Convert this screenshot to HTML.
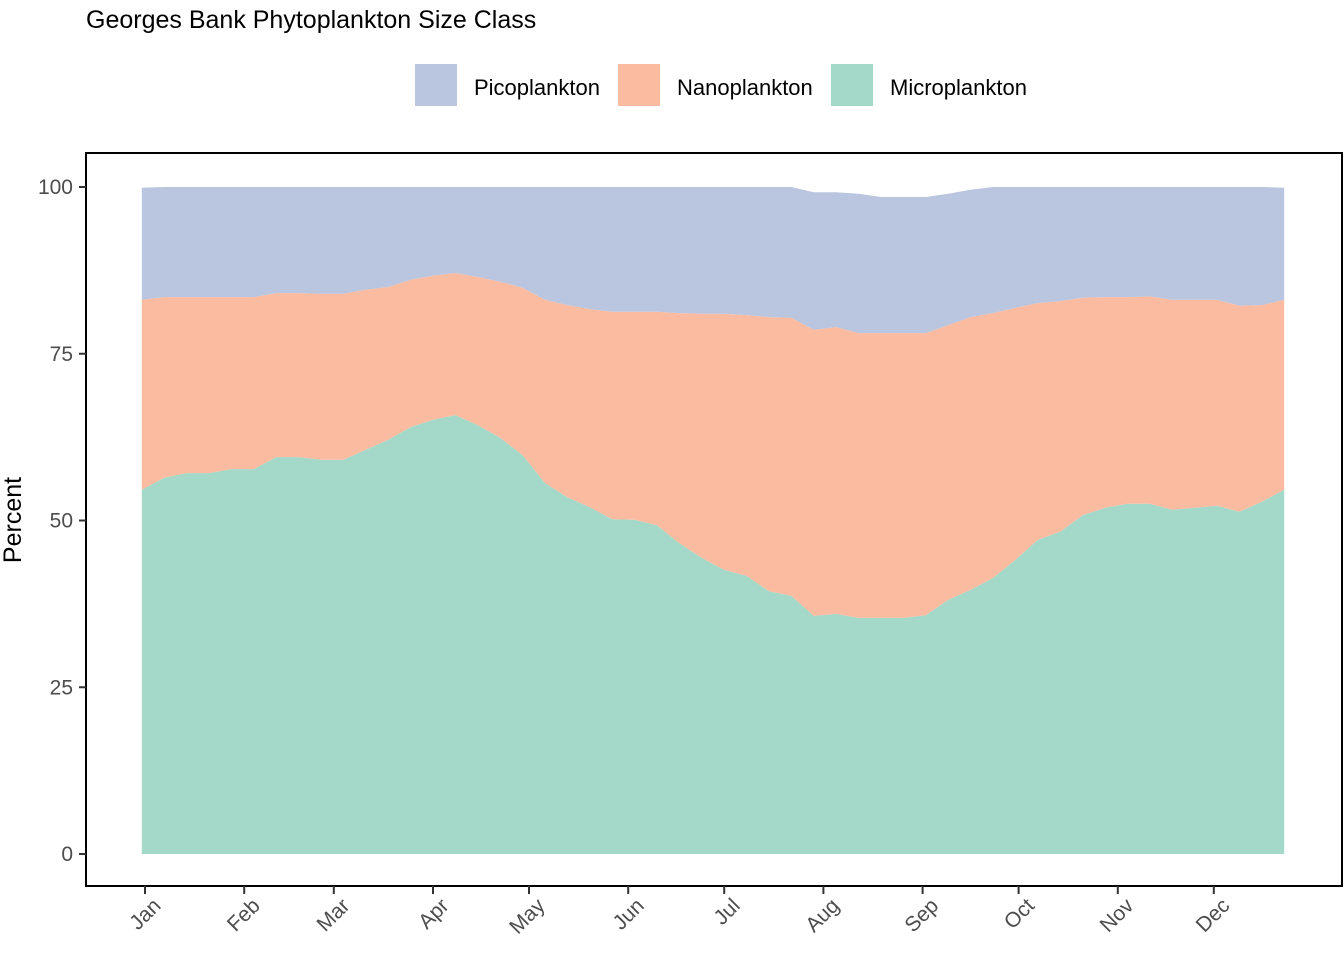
<!DOCTYPE html>
<html><head><meta charset="utf-8"><style>
body{margin:0;background:#fff;}
svg{display:block;font-family:"Liberation Sans",Arial,sans-serif;}
</style></head><body>
<svg id="chart" width="1344" height="960" viewBox="0 0 1344 960">
<text x="86" y="28" font-size="25" fill="#000">Georges Bank Phytoplankton Size Class</text>
<g>
<rect x="415" y="64" width="42" height="42" fill="#BAC5E0"/>
<text x="474" y="95" font-size="22">Picoplankton</text>
<rect x="618" y="64" width="42" height="42" fill="#FBBBA0"/>
<text x="677" y="95" font-size="22">Nanoplankton</text>
<rect x="831" y="64" width="42" height="42" fill="#A4D9C9"/>
<text x="890" y="95" font-size="22">Microplankton</text>
</g>
<text transform="translate(21,520) rotate(-90)" text-anchor="middle" font-size="25">Percent</text>
<g id="areas"></g>
<rect x="86" y="153" width="1256" height="733" fill="none" stroke="#000" stroke-width="2"/>
<g id="axes"></g>
</svg>
<script>
const days = [];
for (let i = 0; i < 52; i++) days.push(i * 7);
const micro = [54.6,56.4,57.1,57.1,57.7,57.7,59.5,59.5,59.1,59.1,60.6,62.1,64.0,65.1,65.8,64.3,62.4,59.8,55.6,53.5,52.0,50.2,50.1,49.3,46.6,44.4,42.6,41.7,39.4,38.7,35.7,36.0,35.4,35.4,35.4,35.8,38.1,39.6,41.4,44.1,47.1,48.3,50.8,51.9,52.5,52.5,51.6,51.9,52.2,51.3,52.8,54.6];
const nano = [28.5,27.1,26.4,26.4,25.8,25.8,24.6,24.6,24.9,24.9,24.0,22.9,22.1,21.6,21.3,22.2,23.4,25.1,27.5,28.8,29.7,31.1,31.2,32.0,34.5,36.6,38.4,39.1,41.1,41.7,42.9,43.0,42.7,42.7,42.7,42.3,41.2,40.9,39.7,37.8,35.5,34.6,32.6,31.6,31.0,31.1,31.5,31.2,30.9,30.9,29.5,28.5];
const pico = [16.8,16.5,16.5,16.5,16.5,16.5,15.9,15.9,16.0,16.0,15.4,15.0,13.9,13.3,12.9,13.5,14.2,15.1,16.9,17.7,18.3,18.7,18.7,18.7,18.9,19.0,19.0,19.2,19.5,19.6,20.6,20.2,20.9,20.4,20.4,20.4,19.7,19.1,18.9,18.1,17.4,17.1,16.6,16.5,16.5,16.4,16.9,16.9,16.9,17.8,17.7,16.8];
const yTicks = [0,25,50,75,100];
const months = ["Jan","Feb","Mar","Apr","May","Jun","Jul","Aug","Sep","Oct","Nov","Dec"];
const monthStartDay = [1,32,60,91,121,152,182,213,244,274,305,335];

const NS = "http://www.w3.org/2000/svg";
const xScale = d => 141.8 + d * 3.2;
const yScale = v => 854 - v * 6.67;

const areas = document.getElementById('areas');
const axes = document.getElementById('axes');
function areaPath(lo, hi) {
  let s = "";
  for (let i = 0; i < days.length; i++) s += (i ? "L" : "M") + xScale(days[i]).toFixed(1) + "," + yScale(hi[i]).toFixed(1);
  for (let i = days.length - 1; i >= 0; i--) s += "L" + xScale(days[i]).toFixed(1) + "," + yScale(lo[i]).toFixed(1);
  return s + "Z";
}
const zero = days.map(() => 0);
const c1 = micro.slice();
const c2 = micro.map((v, i) => v + nano[i]);
const c3 = c2.map((v, i) => v + pico[i]);
const layers = [[zero, c1, "#A4D9C9", "area-microplankton"], [c1, c2, "#FBBBA0", "area-nanoplankton"], [c2, c3, "#BAC5E0", "area-picoplankton"]];
layers.forEach(l => {
  const p = document.createElementNS(NS, "path");
  p.setAttribute("d", areaPath(l[0], l[1]));
  p.setAttribute("fill", l[2]);
  
  
  areas.appendChild(p);
});
yTicks.forEach(t => {
  const y = yScale(t);
  const ln = document.createElementNS(NS, "line");
  ln.setAttribute("x1", 79); ln.setAttribute("x2", 86); ln.setAttribute("y1", y); ln.setAttribute("y2", y);
  ln.setAttribute("stroke", "#333"); ln.setAttribute("stroke-width", "2");
  
  
  axes.appendChild(ln);
  const tx = document.createElementNS(NS, "text");
  tx.setAttribute("x", 73); tx.setAttribute("y", y + 7);
  tx.setAttribute("text-anchor", "end"); tx.setAttribute("font-size", "21"); tx.setAttribute("fill", "#4d4d4d");
  tx.textContent = t;
  
  
  axes.appendChild(tx);
});
months.forEach((m, i) => {
  const x = xScale(monthStartDay[i]);
  const ln = document.createElementNS(NS, "line");
  ln.setAttribute("x1", x); ln.setAttribute("x2", x); ln.setAttribute("y1", 886); ln.setAttribute("y2", 894);
  ln.setAttribute("stroke", "#333"); ln.setAttribute("stroke-width", "2");
  
  
  axes.appendChild(ln);
  const tx = document.createElementNS(NS, "text");
  tx.setAttribute("transform", "translate(" + (x + 17) + ",907) rotate(-45)");
  tx.setAttribute("text-anchor", "end"); tx.setAttribute("font-size", "21"); tx.setAttribute("fill", "#4d4d4d");
  tx.textContent = m;
  
  
  axes.appendChild(tx);
});
</script>
</body></html>
